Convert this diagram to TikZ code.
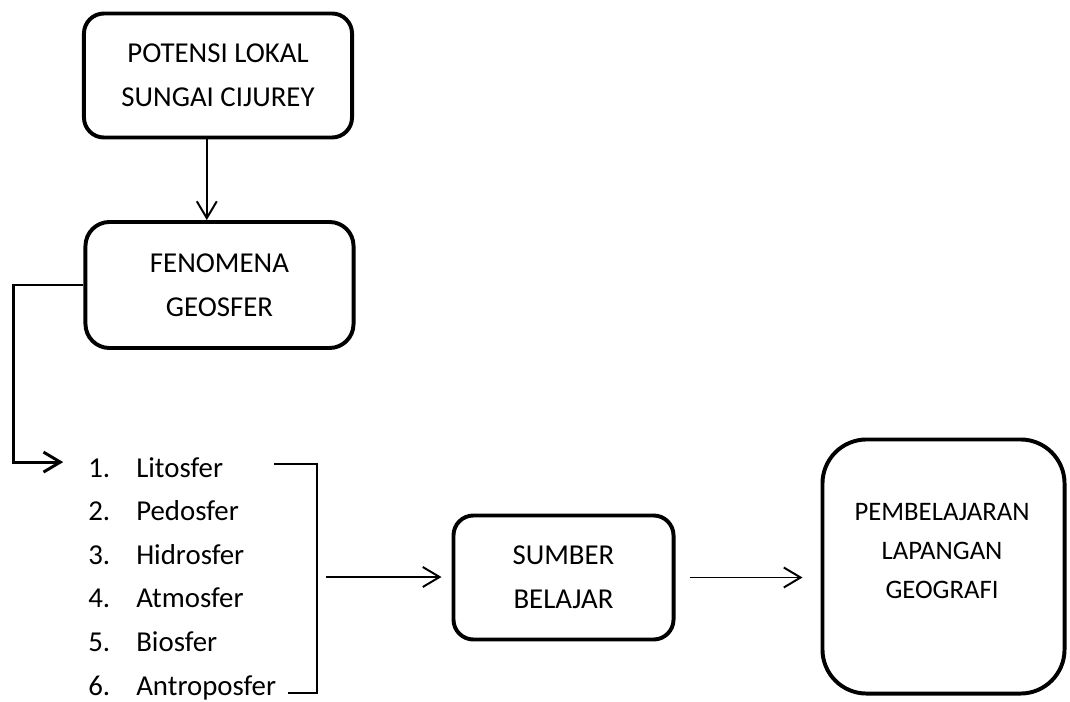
\documentclass[tikz,border=0pt]{standalone}
\usepackage{fontspec}
\setmainfont{Carlito}
\usetikzlibrary{arrows.meta}

\begin{document}
\begin{tikzpicture}[x=0.025cm,y=-0.025cm,
  font=\fontsize{20.5}{31}\selectfont,
  box/.style={draw,line width=2.8pt,rounded corners=0.5cm,align=center,minimum width=6.7cm,minimum height=3.1cm},
  item/.style={anchor=base west,inner sep=0pt},
  arr/.style={-{Straight Barb[length=0.42cm,width=0.5cm]},line width=1.4pt},
  bracket/.style={line width=1.4pt}]

\useasboundingbox (0,0) rectangle (1070,702);

% Kotak
\node[box] (potensi) at (218,75.5) {POTENSI LOKAL\\SUNGAI CIJUREY};
\node[box,rounded corners=0.6cm,minimum height=3.15cm] (fenomena) at (219.5,285) {FENOMENA\\GEOSFER};
\node[box,minimum width=5.5cm] (sumber) at (563.5,577.5) {SUMBER\\BELAJAR};
\node[box,minimum width=6.05cm,minimum height=6.35cm,rounded corners=1.1cm] (pembelajaran) at (943.5,566.5) {};
\node[font=\fontsize{19}{27.7}\selectfont,align=center] (pembteks) at (942,551) {PEMBELAJARAN\\LAPANGAN\\GEOGRAFI};

% Daftar geosfer
\foreach \t [count=\i] in {Litosfer,Pedosfer,Hidrosfer,Atmosfer,Biosfer,Antroposfer}
  \node[item] (l\i) at (88,{433.5+43.6*\i}) {\makebox[1.2cm][l]{\i.}\t};

% Kurung
\coordinate (kA) at (274,464);
\coordinate (kB) at (317,464);
\coordinate (kC) at (317,693);
\coordinate (kD) at (288,693);
\coordinate (kM) at (326,577);
\draw[bracket] (kA) -- (kB) -- (kC) -- (kD);

% Panah
\draw[arr] ([xshift=-0.28cm]potensi.south) -- ([xshift=-0.28cm]potensi.south |- fenomena.north);
\draw[arr,line width=2.1pt] (fenomena.west) -- ++(-70,0) |- ([xshift=-0.62cm,yshift=0.13cm]l1.west);
\draw[arr,shorten >=0.25cm] (kM) -- (kM -| sumber.west);
\draw[arr,shorten <=0.35cm,shorten >=0.45cm] (sumber.east) -- (sumber.east -| pembelajaran.west);

\end{tikzpicture}
\end{document}
